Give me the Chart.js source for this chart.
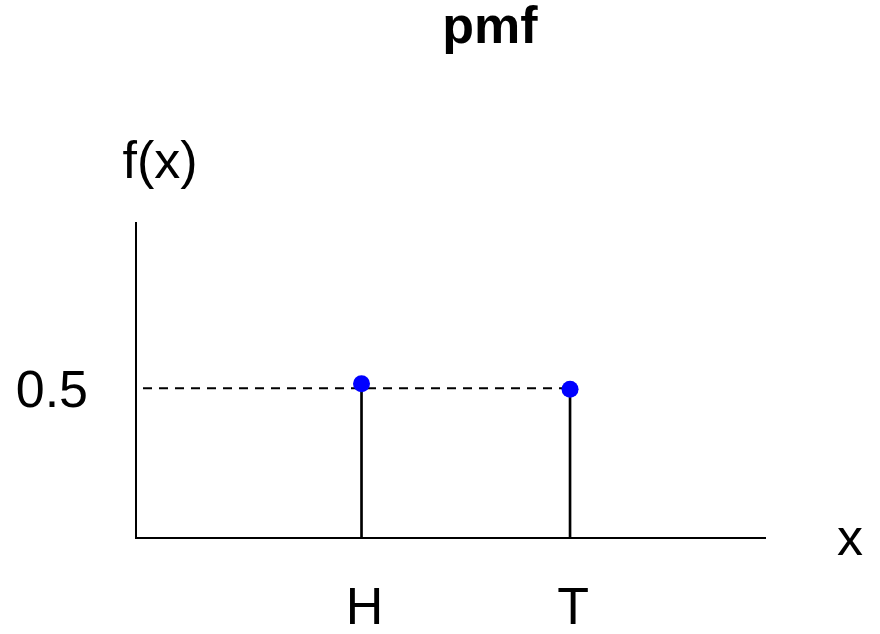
<!DOCTYPE html>
<html lang="en">
<head>
    <meta charset="UTF-8">
    <title>pmf</title>
    <script src="https://cdn.jsdelivr.net/npm/chart.js"></script>
    <style>
        body { margin: 0; background: #fff; }
    </style>
</head>
<body>
    <canvas id="pmfChart" width="880" height="634"></canvas>

    <script>
        // Data
        const outcomes = ['H', 'T'];
        const probs = [0.515, 0.497];
        const refLevel = 0.5;
        const yTickValues = [0.5];
        const yTickLabels = ['0.5'];

        const FONT = '"Liberation Sans", Arial, sans-serif';
        const xMin = -0.0815, xMax = 2.935;

        const pts = outcomes.map((o, i) => ({ x: i + 1, y: probs[i] }));

        // titles and axis names drawn on top
        const textPlugin = {
            id: 'texts',
            afterDraw(chart) {
                const ctx = chart.ctx;
                ctx.save();
                ctx.fillStyle = '#000';
                ctx.textAlign = 'center';
                ctx.textBaseline = 'alphabetic';
                ctx.font = 'bold 52px ' + FONT;
                ctx.fillText('pmf', 490, 43);
                ctx.font = '52px ' + FONT;
                ctx.fillText('f(x)', 160, 178);
                ctx.fillText('x', 850, 555);
                ctx.restore();
            }
        };

        const config = {
            type: 'scatter',
            data: {
                datasets: [
                    {
                        type: 'scatter',
                        data: pts,
                        backgroundColor: '#0000ff',
                        borderColor: '#0000ff',
                        borderWidth: 0,
                        pointRadius: 8.5
                    },
                    {
                        type: 'line',
                        data: [{ x: xMin, y: refLevel }, { x: outcomes.length, y: refLevel }],
                        borderColor: '#000',
                        borderWidth: 2,
                        borderDash: [9, 7],
                        borderDashOffset: 9,
                        pointRadius: 0,
                        fill: false
                    },
                    {
                        type: 'bar',
                        data: pts,
                        backgroundColor: '#000',
                        borderWidth: 0,
                        barThickness: 2
                    }
                ]
            },
            options: {
                responsive: false,
                animation: false,
                layout: { padding: { top: 223, right: 115, left: 0, bottom: 0 } },
                plugins: {
                    legend: { display: false },
                    tooltip: { enabled: false }
                },
                scales: {
                    x: {
                        type: 'linear',
                        min: xMin,
                        max: xMax,
                        offset: false,
                        grid: { display: false, drawTicks: false, tickLength: 0 },
                        border: { display: true, color: '#000', width: 2 },
                        afterBuildTicks: (scale) => {
                            scale.ticks = outcomes.map((o, i) => ({ value: i + 1 }));
                        },
                        afterFit: (scale) => { scale.height = 96; },
                        ticks: {
                            color: '#000',
                            font: { family: FONT, size: 52, lineHeight: 1 },
                            padding: 46,
                            labelOffset: 3,
                            maxRotation: 0,
                            callback: (v) => outcomes[Math.round(v) - 1] || ''
                        }
                    },
                    y: {
                        min: 0,
                        max: 1.052,
                        grid: { display: false, drawTicks: false, tickLength: 0 },
                        border: { display: true, color: '#000', width: 2 },
                        afterBuildTicks: (scale) => {
                            scale.ticks = yTickValues.map(v => ({ value: v }));
                        },
                        afterFit: (scale) => { scale.width = 136; },
                        ticks: {
                            color: '#000',
                            font: { family: FONT, size: 52, lineHeight: 1 },
                            padding: 48,
                            labelOffset: 4,
                            callback: (v) => {
                                const i = yTickValues.indexOf(v);
                                return i >= 0 ? yTickLabels[i] : '';
                            }
                        }
                    }
                }
            },
            plugins: [textPlugin]
        };

        new Chart(document.getElementById('pmfChart'), config);
    </script>
</body>
</html>
